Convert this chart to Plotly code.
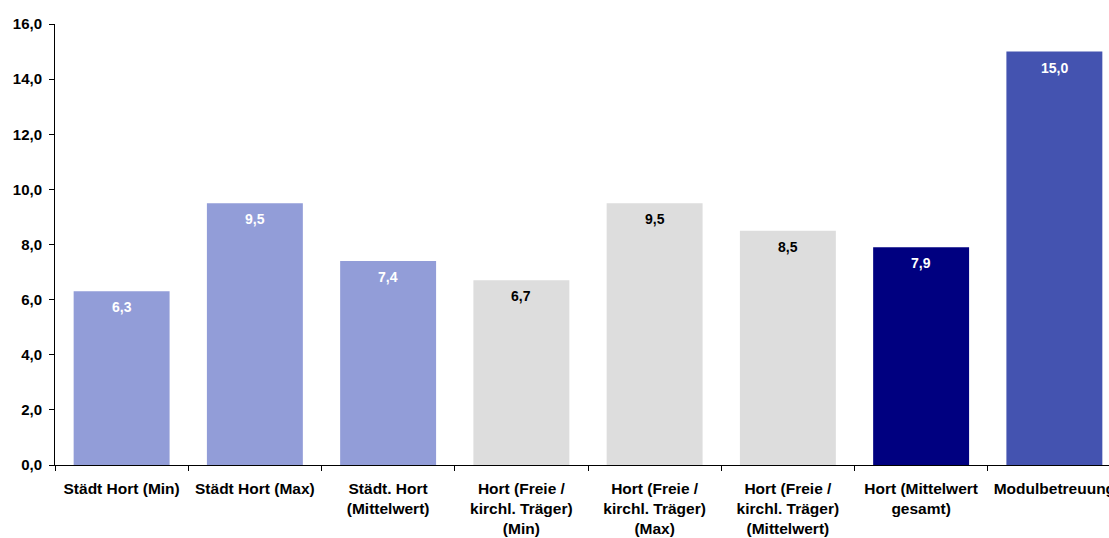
import plotly.graph_objects as go

categories = [
    "Städt Hort (Min)",
    "Städt Hort (Max)",
    "Städt. Hort<br>(Mittelwert)",
    "Hort (Freie /<br>kirchl. Träger)<br>(Min)",
    "Hort (Freie /<br>kirchl. Träger)<br>(Max)",
    "Hort (Freie /<br>kirchl. Träger)<br>(Mittelwert)",
    "Hort (Mittelwert<br>gesamt)",
    "Modulbetreuung",
]
values = [6.3, 9.5, 7.4, 6.7, 9.5, 8.5, 7.9, 15.0]
bar_colors = ["#929DD8", "#929DD8", "#929DD8", "#DDDDDD", "#DDDDDD", "#DDDDDD", "#000080", "#4453B0"]
label_colors = ["white", "white", "white", "black", "black", "black", "white", "white"]
y_ticks = [0, 2, 4, 6, 8, 10, 12, 14, 16]

FONT = "Liberation Sans, Arial, sans-serif"

fig = go.Figure()
fig.add_trace(go.Bar(
    x=categories,
    y=values,
    marker=dict(color=bar_colors, line=dict(width=0)),
    width=0.72,
    hoverinfo="skip",
))

for c, v, col in zip(categories, values, label_colors):
    fig.add_annotation(
        x=c, y=v, yshift=-16, yanchor="middle", xanchor="center",
        text="<b>" + f"{v:.1f}".replace(".", ",") + "</b>",
        showarrow=False,
        font=dict(family=FONT, size=14, color=col),
    )

fig.update_layout(
    width=1109,
    height=538,
    margin=dict(l=55, r=0, t=24, b=73),
    paper_bgcolor="white",
    plot_bgcolor="white",
    separators=",.",
    showlegend=False,
    font=dict(family=FONT, size=14, color="black"),
)
fig.update_xaxes(
    range=[-0.5, 7.41],
    showline=True, linecolor="black", linewidth=1,
    ticks="outside", ticklen=5, tickcolor="black",
    tickson="boundaries",
    showgrid=False,
    tickangle=0,
    automargin=False,
    tickfont=dict(family=FONT, size=15.5, color="black", weight="bold"),
    ticklabelstandoff=9,
)
fig.update_yaxes(
    range=[0, 16],
    tickvals=y_ticks,
    tickformat=".1f",
    showline=True, linecolor="black", linewidth=1,
    ticks="outside", ticklen=5, tickcolor="black",
    showgrid=False, zeroline=False,
    automargin=False,
    tickfont=dict(family=FONT, size=15, color="black", weight="bold"),
    ticklabelstandoff=4,
)

fig.write_html("out.html", config={"displayModeBar": False},
               post_script="document.body.style.margin='0';")
